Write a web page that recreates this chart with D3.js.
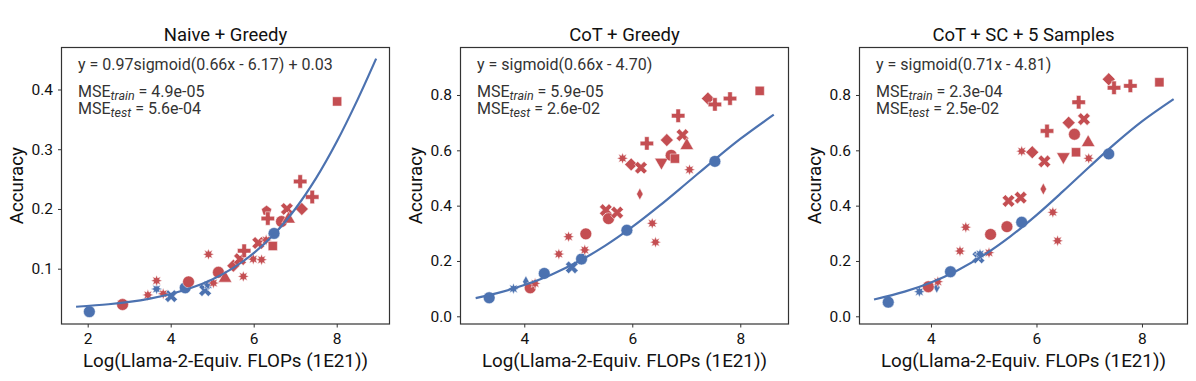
<!DOCTYPE html>
<html lang="en">
<head>
<meta charset="UTF-8">
<title>Accuracy vs FLOPs</title>
<script src="https://d3js.org/d3.v7.min.js"></script>
<style>
    body { margin: 0; background: #fff; }
    svg { font-family: Roboto, "DejaVu Sans", sans-serif; }
    .tick text { font-size: 15.5px; fill: #111; }
    .tick line { stroke: #333; }
    .title { font-size: 18.5px; fill: #111; }
    .axis-label { font-size: 18.8px; fill: #111; }
    .note { font-size: 16px; fill: #333; }
</style>
</head>
<body>
<svg width="1196" height="381"></svg>
<script>
// panel titles and fit text
const titles = ["Naive + Greedy", "CoT + Greedy", "CoT + SC + 5 Samples"];
const fitLabels = ["y = 0.97sigmoid(0.66x - 6.17) + 0.03", "y = sigmoid(0.66x - 4.70)", "y = sigmoid(0.71x - 4.81)"];
const mseTrain = ["4.9e-05", "5.9e-05", "2.3e-04"];
const mseTest = ["5.6e-04", "2.6e-02", "2.5e-02"];

// axes
const xDomains = [[1.369, 9.272], [2.819, 8.893], [2.645, 8.863]];
const yDomains = [[0.0074, 0.4703], [-0.0278, 0.9717], [-0.0278, 0.9717]];
const xTicks = [[2, 4, 6, 8], [4, 6, 8], [4, 6, 8]];
const yTicks = [[0.1, 0.2, 0.3, 0.4], [0, 0.2, 0.4, 0.6, 0.8], [0, 0.2, 0.4, 0.6, 0.8]];

// [x, accuracy, marker, set]  set: "train" (blue) or "test" (red)
const naiveGreedy = [
    [2.04, 0.028, "circle", "train"], [3.66, 0.066, "star", "train"], [4.01, 0.054, "x", "train"],
    [4.35, 0.068, "circle", "train"], [4.83, 0.064, "x", "train"], [4.9, 0.073, "star", "train"],
    [6.49, 0.159, "circle", "train"],
    [2.84, 0.040, "circle", "test"], [3.45, 0.056, "star", "test"], [3.66, 0.080, "star", "test"],
    [3.82, 0.058, "star", "test"], [4.43, 0.078, "circle", "test"], [4.91, 0.124, "star", "test"],
    [5.03, 0.076, "star", "test"], [5.15, 0.094, "circle", "test"], [5.31, 0.084, "triangle", "test"],
    [5.51, 0.105, "diamond", "test"], [5.75, 0.087, "star", "test"], [5.67, 0.116, "x", "test"],
    [5.77, 0.130, "plus", "test"], [5.99, 0.116, "star", "test"], [6.19, 0.115, "star", "test"],
    [6.11, 0.143, "x", "test"], [6.3, 0.148, "star", "test"], [6.46, 0.138, "square", "test"],
    [6.31, 0.197, "pentagon", "test"], [6.34, 0.184, "plus", "test"], [6.8, 0.200, "x", "test"],
    [6.67, 0.179, "circle", "test"], [6.84, 0.183, "triangle", "test"], [7.12, 0.246, "plus", "test"],
    [7.16, 0.200, "diamond", "test"], [7.41, 0.220, "plus", "test"], [8.01, 0.380, "square", "test"]
];
const cotGreedy = [
    [3.35, 0.067, "circle", "train"], [3.8, 0.100, "star", "train"], [4.03, 0.125, "thin", "train"],
    [4.37, 0.155, "circle", "train"], [4.88, 0.177, "x", "train"], [5.06, 0.207, "circle", "train"],
    [5.9, 0.311, "circle", "train"], [7.53, 0.560, "circle", "train"],
    [4.11, 0.103, "circle", "test"], [4.2, 0.119, "star", "test"], [4.64, 0.225, "star", "test"],
    [4.82, 0.288, "star", "test"], [5.12, 0.240, "star", "test"], [5.14, 0.298, "circle", "test"],
    [5.51, 0.384, "x", "test"], [5.56, 0.353, "circle", "test"], [5.72, 0.375, "x", "test"],
    [5.82, 0.571, "star", "test"], [5.98, 0.549, "diamond", "test"], [6.16, 0.537, "x", "test"],
    [6.14, 0.442, "thin", "test"], [6.27, 0.625, "plus", "test"], [6.37, 0.336, "star", "test"],
    [6.43, 0.268, "star", "test"], [6.54, 0.557, "triangleDown", "test"], [6.64, 0.637, "diamond", "test"],
    [6.72, 0.582, "circle", "test"], [6.79, 0.570, "square", "test"], [6.85, 0.725, "plus", "test"],
    [6.93, 0.655, "x", "test"], [7.01, 0.617, "triangle", "test"], [7.06, 0.530, "star", "test"],
    [7.4, 0.787, "diamond", "test"], [7.53, 0.766, "plus", "test"], [7.81, 0.787, "plus", "test"],
    [8.36, 0.815, "square", "test"]
];
const cotScSamples = [
    [3.19, 0.051, "circle", "train"], [3.78, 0.089, "star", "train"], [4.11, 0.105, "thin", "train"],
    [4.37, 0.161, "circle", "train"], [4.9, 0.213, "x", "train"], [4.93, 0.225, "star", "train"],
    [5.72, 0.340, "circle", "train"], [7.37, 0.587, "circle", "train"],
    [3.95, 0.107, "circle", "test"], [4.13, 0.125, "star", "test"], [4.55, 0.236, "star", "test"],
    [4.66, 0.322, "star", "test"], [5.1, 0.230, "star", "test"], [5.13, 0.296, "circle", "test"],
    [5.44, 0.324, "circle", "test"], [5.47, 0.417, "x", "test"], [5.7, 0.429, "x", "test"],
    [5.72, 0.597, "star", "test"], [5.92, 0.593, "diamond", "test"], [6.15, 0.560, "x", "test"],
    [6.13, 0.460, "thin", "test"], [6.2, 0.670, "plus", "test"], [6.31, 0.376, "star", "test"],
    [6.4, 0.273, "star", "test"], [6.51, 0.577, "triangleDown", "test"], [6.61, 0.700, "diamond", "test"],
    [6.72, 0.658, "circle", "test"], [6.75, 0.593, "square", "test"], [6.8, 0.774, "plus", "test"],
    [6.9, 0.713, "x", "test"], [6.98, 0.628, "triangle", "test"], [6.99, 0.571, "star", "test"],
    [7.37, 0.857, "diamond", "test"], [7.47, 0.826, "plus", "test"], [7.78, 0.833, "plus", "test"],
    [8.33, 0.846, "square", "test"]
];

// fitted curves
const naiveGreedyFit = [[1.72, 0.0363], [2.5, 0.0405], [3, 0.0445], [3.5, 0.050], [4, 0.0576], [4.5, 0.068],
    [5, 0.082], [5.5, 0.1009], [6, 0.1259], [6.5, 0.1584], [7, 0.1999], [7.5, 0.2511], [8, 0.3124],
    [8.5, 0.3826], [8.95, 0.4516]];
const cotGreedyFit = [[3.1, 0.0657], [3.5, 0.0839], [4, 0.113], [4.5, 0.1506], [5, 0.1978], [5.5, 0.2554],
    [6, 0.323], [6.5, 0.3989], [7, 0.48], [7.5, 0.5622], [8, 0.6411], [8.62, 0.7289]];
const cotScSamplesFit = [[2.92, 0.0608], [3.5, 0.0891], [4, 0.1224], [4.5, 0.1659], [5, 0.221], [5.5, 0.288],
    [6, 0.3659], [6.5, 0.4514], [7, 0.5399], [7.5, 0.626], [8, 0.7047], [8.6, 0.7852]];

const pointSets = [naiveGreedy, cotGreedy, cotScSamples];
const fitSets = [naiveGreedyFit, cotGreedyFit, cotScSamplesFit];

const blue = "#4c72b0", red = "#c44e52";
const panelLeft = [61.5, 460.5, 859.5];
const panelW = 328, plotTop = 47.5, plotBottom = 324;

const svg = d3.select("svg");

function polygon(pts) {
    const p = d3.path();
    pts.forEach((q, i) => i ? p.lineTo(q[0], q[1]) : p.moveTo(q[0], q[1]));
    p.closePath();
    return p.toString();
}

function markerPath(shape) {
    const r = 5.4;
    switch (shape) {
        case "circle": return d3.symbol(d3.symbolCircle, 110)();
        case "square": return d3.symbol(d3.symbolSquare, 85)();
        case "triangle": return d3.symbol(d3.symbolTriangle, 80)();
        case "triangleDown": return d3.symbol(d3.symbolTriangle, 80)();
        case "plus": return d3.symbol(d3.symbolCross, 100)();
        case "x": return d3.symbol(d3.symbolCross, 100)();
        case "diamond": return polygon([[0, -r * 1.2], [r * 1.2, 0], [0, r * 1.2], [-r * 1.2, 0]]);
        case "thin": return polygon([[0, -r * 1.1], [r * 0.6, 0], [0, r * 1.1], [-r * 0.6, 0]]);
        case "pentagon": return polygon(d3.range(5).map(i => {
            const a = -Math.PI / 2 + i * 2 * Math.PI / 5;
            return [r * Math.cos(a), r * Math.sin(a)];
        }));
        case "star": return polygon(d3.range(16).map(i => {
            const a = -Math.PI / 2 + i * Math.PI / 8;
            const rr = i % 2 ? r * 0.55 : r * 1.05;
            return [rr * Math.cos(a), rr * Math.sin(a)];
        }));
    }
}
const rotation = { x: 45, triangleDown: 180 };

titles.forEach((title, i) => {
    const left = panelLeft[i];
    const x = d3.scaleLinear().domain(xDomains[i]).range([left, left + panelW]);
    const y = d3.scaleLinear().domain(yDomains[i]).range([plotBottom, plotTop]);
    const g = svg.append("g");

    g.append("g")
        .attr("transform", `translate(0,${plotBottom})`)
        .call(d3.axisBottom(x).tickValues(xTicks[i]).tickFormat(d3.format("d")).tickSize(3.5).tickPadding(5.5))
        .call(a => a.select(".domain").remove());
    g.append("g")
        .attr("transform", `translate(${left},0)`)
        .call(d3.axisLeft(y).tickValues(yTicks[i]).tickFormat(d3.format(".1f")).tickSize(3.5).tickPadding(5))
        .call(a => a.select(".domain").remove());
    g.selectAll("g").attr("font-family", null).attr("font-size", null);

    // markers
    g.append("g").selectAll("path")
        .data(pointSets[i])
        .join("path")
        .attr("d", d => markerPath(d[2]))
        .attr("transform", d => `translate(${x(d[0])},${y(d[1])}) rotate(${rotation[d[2]] || 0})`)
        .attr("fill", d => d[3] === "train" ? blue : red)
        .attr("stroke", "#fff")
        .attr("stroke-width", 0.5);

    // fitted sigmoid
    g.append("path")
        .datum(fitSets[i])
        .attr("fill", "none")
        .attr("stroke", blue)
        .attr("stroke-width", 2.2)
        .attr("d", d3.line().x(d => x(d[0])).y(d => y(d[1])).curve(d3.curveCatmullRom));

    // frame
    g.append("rect")
        .attr("x", left).attr("y", plotTop)
        .attr("width", panelW).attr("height", plotBottom - plotTop)
        .attr("fill", "none").attr("stroke", "#333").attr("stroke-width", 1.2);

    g.append("text").attr("class", "title")
        .attr("x", left + panelW / 2).attr("y", 41)
        .attr("text-anchor", "middle").text(title);

    g.append("text").attr("class", "axis-label")
        .attr("x", left + panelW / 2).attr("y", 367)
        .attr("text-anchor", "middle").text("Log(Llama-2-Equiv. FLOPs (1E21))");

    g.append("text").attr("class", "axis-label")
        .attr("transform", `translate(${left - 39},${(plotTop + plotBottom) / 2}) rotate(-90)`)
        .attr("text-anchor", "middle").text("Accuracy");

    const nx = left + 16.5;
    g.append("text").attr("class", "note").attr("x", nx).attr("y", 69.5).text(fitLabels[i]);
    [["train", mseTrain[i], 96.5], ["test", mseTest[i], 114]].forEach(([sub, val, yy]) => {
        const t = g.append("text").attr("class", "note").attr("x", nx).attr("y", yy);
        t.append("tspan").text("MSE");
        t.append("tspan").attr("font-style", "italic").attr("font-size", 12.5).attr("dy", 3).text(sub);
        t.append("tspan").attr("dy", -3).text(" = " + val);
    });
});
</script>
</body>
</html>
